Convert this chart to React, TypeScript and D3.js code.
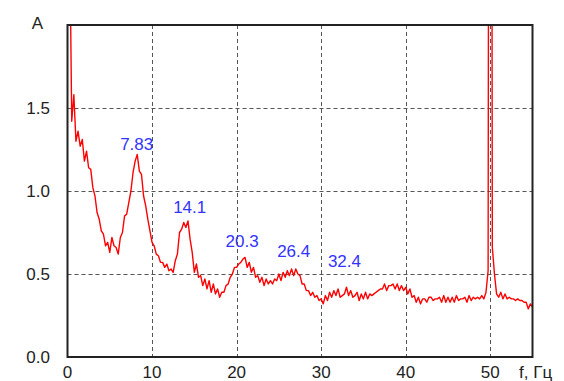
import React, { useEffect, useRef } from "react";
import * as d3 from "d3";

// spectrum sampled every 0.25 Hz starting at 0.25 Hz
const freqStart = 0.25;
const freqStep = 0.25;
const amplitudes = [
  2.6, 1.42, 1.58, 1.3, 1.36, 1.27, 1.31, 1.18,
  1.24, 1.14, 1.13, 1.02, 0.97, 0.87, 0.83, 0.76,
  0.74, 0.67, 0.69, 0.63, 0.72, 0.67, 0.66, 0.62,
  0.72, 0.75, 0.85, 0.86, 0.93, 1.0, 1.11, 1.18,
  1.22, 1.12, 1.1, 0.97, 0.91, 0.83, 0.76, 0.69,
  0.67, 0.62, 0.61, 0.57, 0.57, 0.54, 0.56, 0.52,
  0.53, 0.51, 0.58, 0.62, 0.75, 0.77, 0.81, 0.78,
  0.82, 0.71, 0.63, 0.51, 0.56, 0.48, 0.49, 0.43,
  0.47, 0.41, 0.46, 0.39, 0.44, 0.38, 0.41, 0.36,
  0.39, 0.39, 0.43, 0.44, 0.48, 0.5, 0.54, 0.54,
  0.56, 0.57, 0.59, 0.6, 0.54, 0.57, 0.51, 0.54,
  0.48, 0.49, 0.45, 0.48, 0.43, 0.47, 0.44, 0.46,
  0.44, 0.47, 0.46, 0.5, 0.46, 0.51, 0.48, 0.52,
  0.49, 0.53, 0.49, 0.53, 0.5, 0.49, 0.44, 0.44,
  0.4, 0.4, 0.37, 0.39, 0.36, 0.37, 0.34, 0.35,
  0.32, 0.37, 0.34, 0.39, 0.36, 0.4, 0.37, 0.41,
  0.36, 0.37, 0.38, 0.42, 0.37, 0.4, 0.36, 0.37,
  0.39, 0.34, 0.38, 0.35, 0.39, 0.35, 0.38, 0.37,
  0.38, 0.39, 0.4, 0.41, 0.41, 0.44, 0.4, 0.43,
  0.43, 0.44, 0.41, 0.44, 0.4, 0.43, 0.4, 0.42,
  0.38, 0.41, 0.36, 0.37, 0.33, 0.36, 0.32, 0.35,
  0.35, 0.33, 0.36, 0.36, 0.34, 0.35, 0.35, 0.36,
  0.33, 0.37, 0.33, 0.36, 0.33, 0.36, 0.33, 0.37,
  0.34, 0.35, 0.35, 0.36, 0.33, 0.37, 0.34, 0.36,
  0.35, 0.36, 0.35, 0.37, 0.35, 0.39, 0.52, 2.6,
  0.66, 0.5, 0.38, 0.36, 0.39, 0.35, 0.38, 0.35,
  0.36, 0.35, 0.35, 0.34, 0.35, 0.34, 0.34, 0.33,
  0.33, 0.29, 0.32, 0.3,
];

// extra samples that make the 50 Hz mains line
const spikeFreqs = [49.8, 50.2];
const spikeAmps = [2.6, 2.6];

// resonance annotations
const peakFreqs = [7.83, 14.1, 20.3, 26.4, 32.4];
const peakLabels = ["7.83", "14.1", "20.3", "26.4", "32.4"];
const labelLevels = [1.25, 0.87, 0.66, 0.6, 0.54];

const xTicks = [0, 10, 20, 30, 40, 50];
const yTicks = [0, 0.5, 1.0, 1.5];

const W = 564;
const H = 381;

const App = () => {
  const ref = useRef<SVGSVGElement | null>(null);

  useEffect(() => {
    const svg = d3.select(ref.current);
    svg.selectAll("*").remove();

    const left = 67.5, right = 532.5, top = 25, bottom = 357;
    const font = "'Liberation Sans', Arial, sans-serif";

    const x = d3.scaleLinear().domain([0, 55]).range([left, right]);
    const y = d3.scaleLinear().domain([0, 2]).range([bottom, top]);

    const pts: [number, number][] = amplitudes.map((a, i) => [freqStart + i * freqStep, a]);
    spikeFreqs.forEach((f, i) => pts.push([f, spikeAmps[i]]));
    pts.sort((a, b) => a[0] - b[0]);

    svg.append("rect").attr("width", W).attr("height", H).attr("fill", "#fff");

    svg.append("defs").append("clipPath").attr("id", "plot")
      .append("rect")
      .attr("x", left).attr("y", top)
      .attr("width", right - left).attr("height", bottom - top);

    // grid
    const grid = svg.append("g").attr("stroke", "#555").attr("stroke-width", 1)
      .attr("stroke-dasharray", "4,3");
    xTicks.filter((t) => t > 0).forEach((t) => {
      grid.append("line")
        .attr("x1", Math.round(x(t)) + 0.5).attr("x2", Math.round(x(t)) + 0.5)
        .attr("y1", top).attr("y2", bottom);
    });
    yTicks.filter((t) => t > 0).forEach((t) => {
      grid.append("line")
        .attr("x1", left).attr("x2", right)
        .attr("y1", Math.round(y(t)) + 0.5).attr("y2", Math.round(y(t)) + 0.5);
    });

    // spectrum
    const line = d3.line<[number, number]>()
      .x((d) => x(d[0]))
      .y((d) => y(d[1]));
    svg.append("path")
      .datum(pts)
      .attr("clip-path", "url(#plot)")
      .attr("fill", "none")
      .attr("stroke", "#ff0000")
      .attr("stroke-width", 1.4)
      .attr("stroke-linejoin", "round")
      .attr("d", line);

    // frame
    svg.append("rect")
      .attr("x", left).attr("y", top)
      .attr("width", right - left).attr("height", bottom - top)
      .attr("fill", "none").attr("stroke", "#222").attr("stroke-width", 2);

    // tick labels
    svg.append("g").selectAll("text").data(xTicks).enter().append("text")
      .attr("x", (d) => x(d))
      .attr("y", 378)
      .attr("text-anchor", "middle")
      .attr("font-family", font).attr("font-size", 17).attr("fill", "#222")
      .text((d) => d);

    svg.append("g").selectAll("text").data(yTicks).enter().append("text")
      .attr("x", 50)
      .attr("y", (d) => y(d) + 6)
      .attr("text-anchor", "end")
      .attr("font-family", font).attr("font-size", 17).attr("fill", "#222")
      .text((d) => d.toFixed(1));

    svg.append("text")
      .attr("x", 37.5).attr("y", 29)
      .attr("text-anchor", "middle")
      .attr("font-family", font).attr("font-size", 17).attr("fill", "#222")
      .text("A");

    svg.append("text")
      .attr("x", 519).attr("y", 378)
      .attr("font-family", font).attr("font-size", 17).attr("fill", "#222")
      .text("f, Гц");

    // peak labels
    svg.append("g").selectAll("text").data(peakFreqs).enter().append("text")
      .attr("x", (d) => x(d) + 3)
      .attr("y", (d, i) => y(labelLevels[i]))
      .attr("text-anchor", "middle")
      .attr("font-family", font).attr("font-size", 17).attr("fill", "#3333ff")
      .text((d, i) => peakLabels[i]);
  }, []);

  return (
    <svg
      ref={ref}
      width={W}
      height={H}
      style={{ position: "absolute", left: 0, top: 0, display: "block" }}
    ></svg>
  );
};

export default App;
